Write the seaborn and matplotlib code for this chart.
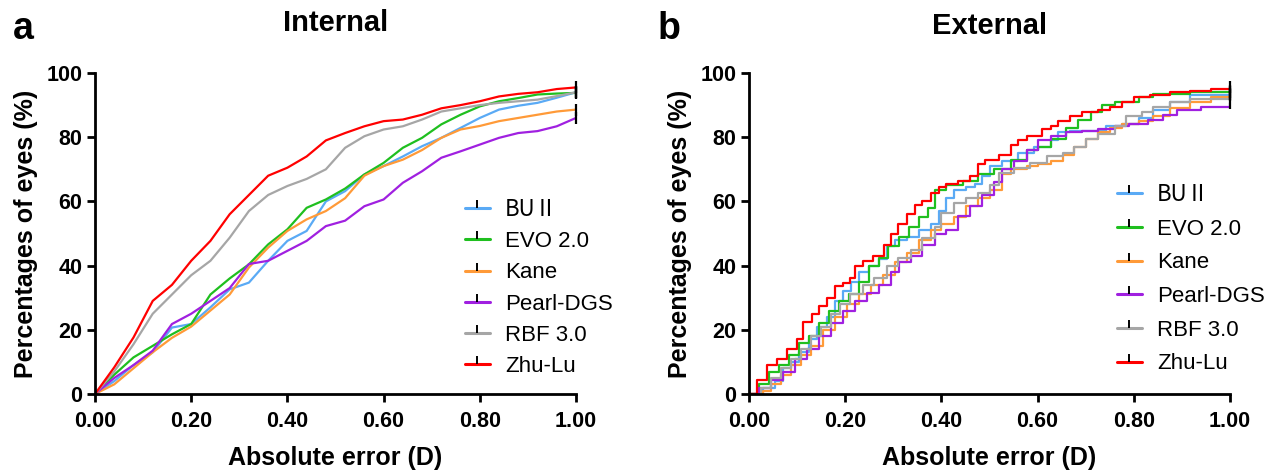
import numpy as np
import pandas as pd
import matplotlib
matplotlib.use("Agg")
import matplotlib.pyplot as plt
from matplotlib.lines import Line2D
import seaborn as sns

sns.set_style("ticks")
plt.rcParams['font.family'] = ['Liberation Sans', 'Noto Sans CJK SC', 'DejaVu Sans']
plt.rcParams['text.color'] = 'black'
plt.rcParams['axes.labelcolor'] = 'black'
plt.rcParams['xtick.color'] = 'black'
plt.rcParams['ytick.color'] = 'black'

models = ["BUⅡ", "EVO 2.0", "Kane", "Pearl-DGS", "RBF 3.0", "Zhu-Lu"]
colors = ["#5aaaf5", "#1fbf1f", "#ff9a38", "#a020e0", "#a6a6a6", "#ff0000"]

# ---------- Internal (panel a) ----------
int_x = [0.0, 0.04, 0.08, 0.12, 0.16, 0.20, 0.24, 0.28, 0.32, 0.36, 0.40, 0.44, 0.48,
         0.52, 0.56, 0.60, 0.64, 0.68, 0.72, 0.76, 0.80, 0.84, 0.88, 0.92, 0.96, 1.00]
int_bu = [0, 4, 9, 13, 20.7, 21.8, 27, 32.6, 34.7, 41.5, 47.7, 50.8, 60, 63.2, 68.4, 71,
          74, 77.2, 79.8, 82.9, 86, 88.6, 89.8, 90.7, 92.3, 94]
int_evo = [0, 6, 11.4, 15, 18.6, 21.8, 31, 36, 40.4, 46.6, 51.3, 58, 60.6, 64, 68.4, 72,
           76.7, 79.8, 84, 87, 89.6, 91.2, 92.2, 93.3, 93.6, 93.8]
int_kane = [0, 3, 8, 13, 17.5, 21, 26, 31, 39.4, 45.6, 50.8, 54.4, 57, 61, 68, 71,
            73, 76, 79.8, 82.4, 83.5, 85, 86, 87, 88, 88.6]
int_pearl = [0, 5, 9, 13.5, 21.8, 25, 29, 33, 40.5, 41.5, 44.6, 47.7, 52.3, 54, 58.5, 60.6,
             65.8, 69.4, 73.6, 75.6, 77.7, 79.8, 81.3, 81.9, 83.4, 86]
int_rbf = [0, 7, 15.5, 25, 31, 37, 41.5, 48.7, 57, 62, 64.8, 67, 70, 76.7, 80.3, 82.4,
           83.4, 85.5, 88, 89, 90, 90.7, 91.2, 91.7, 92.8, 94]
int_zhu = [0, 8.3, 17.6, 29, 34, 41.5, 47.7, 56, 62, 68, 70.5, 74, 79, 81.3, 83.4, 85,
           85.5, 87, 89, 90, 91.2, 92.7, 93.5, 94, 95, 95.5]

# ---------- External (panel b), step curves ----------
ext_bu_x = [0, 0.03, 0.054, 0.071, 0.087, 0.104, 0.124, 0.141, 0.162, 0.178, 0.195, 0.212,
            0.228, 0.249, 0.27, 0.286, 0.303, 0.328, 0.353, 0.378, 0.394, 0.41, 0.427, 0.452,
            0.469, 0.485, 0.502, 0.527, 0.56, 0.593, 0.627, 0.643, 0.668, 0.71, 0.743, 0.776,
            0.81, 0.84, 0.876, 0.917, 1.0]
ext_bu_y = [0, 2, 4, 8, 10, 13, 17, 21, 24, 29, 32, 35, 38, 40, 42, 46, 48, 49, 51, 53, 57,
            61, 63.5, 64.5, 65.5, 68, 71, 72.5, 75, 77, 79, 81.5, 82, 82, 83.5, 84, 86, 88.5,
            91, 93, 94]
ext_evo_x = [0, 0.02, 0.041, 0.062, 0.083, 0.104, 0.124, 0.145, 0.166, 0.187, 0.207, 0.228,
             0.249, 0.27, 0.29, 0.311, 0.332, 0.353, 0.373, 0.386, 0.41, 0.444, 0.477, 0.51,
             0.544, 0.577, 0.6, 0.627, 0.66, 0.685, 0.71, 0.734, 0.76, 0.81, 0.84, 0.917, 1.0]
ext_evo_y = [0, 3, 7, 9, 12, 16, 18, 22, 26, 29, 31, 35, 40, 42.5, 46, 49, 52, 55, 58, 63.5,
             65, 66.5, 68.5, 70, 73, 76, 77, 79.5, 83, 85.5, 88, 90, 91, 92.5, 93.5, 94, 94.5]
ext_kane_x = [0, 0.029, 0.046, 0.066, 0.087, 0.108, 0.129, 0.153, 0.178, 0.203, 0.228, 0.253,
              0.278, 0.303, 0.328, 0.353, 0.378, 0.4, 0.427, 0.452, 0.477, 0.502, 0.527,
              0.544, 0.577, 0.6, 0.627, 0.652, 0.676, 0.7, 0.726, 0.75, 0.776, 0.81, 0.84,
              0.876, 0.917, 0.96, 1.0]
ext_kane_y = [0, 1, 3, 6, 9, 12, 15, 20, 24, 28, 31, 34, 37, 41, 44, 48, 51, 53, 55, 58.5, 61,
              63.5, 68.5, 70, 71, 71.5, 72.5, 74.5, 77, 79.5, 81.5, 83, 84, 85, 86.5, 89, 91,
              92.5, 93.5]
ext_pearl_x = [0, 0.021, 0.046, 0.071, 0.095, 0.12, 0.145, 0.17, 0.195, 0.22, 0.245, 0.27,
               0.295, 0.311, 0.336, 0.36, 0.386, 0.41, 0.435, 0.46, 0.485, 0.51, 0.527, 0.55,
               0.577, 0.6, 0.627, 0.66, 0.693, 0.726, 0.76, 0.79, 0.83, 0.86, 0.89, 0.94, 1.0]
ext_pearl_y = [0, 2, 4.5, 7, 11, 14, 18, 22, 26, 29, 31.5, 34, 38, 41, 43, 46.5, 50, 51, 55.5,
               58.5, 62, 66, 70, 72.5, 76, 79, 80.5, 81.5, 82, 82.5, 83.5, 84, 85.5, 87, 88.5,
               89.5, 90.5]
ext_rbf_x = [0, 0.025, 0.046, 0.066, 0.087, 0.108, 0.129, 0.149, 0.17, 0.19, 0.21, 0.236,
             0.26, 0.286, 0.31, 0.336, 0.36, 0.386, 0.4, 0.427, 0.452, 0.477, 0.502, 0.52,
             0.55, 0.585, 0.62, 0.652, 0.676, 0.7, 0.726, 0.76, 0.784, 0.817, 0.84, 0.876,
             0.917, 1.0]
ext_rbf_y = [0, 2, 5, 8, 11, 14, 18, 21, 25, 28, 31, 34, 36, 40, 42.5, 45, 48.5, 52, 56.5,
             59.5, 61, 62.5, 65, 69, 70.5, 72, 74, 75, 77, 79.5, 81, 83.5, 86.5, 88, 89.5, 91,
             92, 93]
ext_zhu_x = [0, 0.017, 0.037, 0.058, 0.08, 0.1, 0.112, 0.13, 0.145, 0.162, 0.178, 0.195,
             0.21, 0.22, 0.237, 0.257, 0.28, 0.295, 0.31, 0.328, 0.345, 0.36, 0.378, 0.394,
             0.41, 0.435, 0.46, 0.477, 0.49, 0.52, 0.544, 0.56, 0.577, 0.61, 0.627, 0.643,
             0.668, 0.693, 0.726, 0.75, 0.776, 0.8, 0.834, 0.876, 0.917, 0.96, 1.0]
ext_zhu_y = [0, 4.5, 9, 11, 14, 17, 22.5, 25, 27.5, 30, 33.5, 34.5, 36, 40, 41.5, 43, 46.5,
             50, 53, 56, 59, 60, 62.5, 64.5, 65.5, 66.5, 68, 71.5, 73, 74.5, 77.5, 79, 80.5,
             82.5, 83.5, 85, 86.5, 88, 88.5, 89.5, 91, 92.5, 93, 94, 94.5, 95, 95.5]

int_series = [int_bu, int_evo, int_kane, int_pearl, int_rbf, int_zhu]
ext_series = [(ext_bu_x, ext_bu_y), (ext_evo_x, ext_evo_y), (ext_kane_x, ext_kane_y),
              (ext_pearl_x, ext_pearl_y), (ext_rbf_x, ext_rbf_y), (ext_zhu_x, ext_zhu_y)]

df_int = pd.concat([pd.DataFrame({"x": int_x, "y": ys, "model": m})
                    for m, ys in zip(models, int_series)], ignore_index=True)
df_ext = pd.concat([pd.DataFrame({"x": xs, "y": ys, "model": m})
                    for m, (xs, ys) in zip(models, ext_series)], ignore_index=True)

fig = plt.figure(figsize=(12.79, 4.70), dpi=100)
axA = fig.add_axes([95 / 1279, 76 / 470, 481 / 1279, 321 / 470])
axB = fig.add_axes([749 / 1279, 76 / 470, 481 / 1279, 321 / 470])
pal = dict(zip(models, colors))

sns.lineplot(data=df_int, x="x", y="y", hue="model", palette=pal, estimator=None,
             sort=False, linewidth=1.6, legend=False, ax=axA)
sns.lineplot(data=df_ext, x="x", y="y", hue="model", palette=pal, estimator=None,
             sort=False, linewidth=1.6, legend=False, ax=axB, drawstyle="steps-post")

for ax, df in ((axA, df_int), (axB, df_ext)):
    ends = df.groupby("model", sort=False).tail(1)
    ax.plot(ends["x"], ends["y"], linestyle="none", marker="|", color="black",
            markersize=9, markeredgewidth=1.6, clip_on=False, zorder=5)
    ax.set_xlim(0, 1)
    ax.set_ylim(0, 100)
    ax.set_xticks([0, 0.2, 0.4, 0.6, 0.8, 1.0])
    ax.set_xticklabels(["0.00", "0.20", "0.40", "0.60", "0.80", "1.00"])
    ax.set_yticks([0, 20, 40, 60, 80, 100])
    ax.tick_params(axis="both", width=2, length=6, labelsize=15.5, color="black",
                   labelcolor="black", pad=3)
    ax.tick_params(axis="x", pad=6)
    for lab in ax.get_xticklabels() + ax.get_yticklabels():
        lab.set_fontweight("bold")
    for s in ("left", "bottom"):
        ax.spines[s].set_linewidth(2)
        ax.spines[s].set_color("black")
    for s in ("top", "right"):
        ax.spines[s].set_visible(False)
    ax.set_xlabel("Absolute error (D)", fontsize=18, fontweight="bold", labelpad=10)
    ax.set_ylabel("Percentages of eyes (%)", fontsize=18, fontweight="bold", labelpad=6)

    handles = [Line2D([0.5], [0.5], color=c, lw=2.2, marker=2, markersize=6,
                      markeredgecolor="black", markeredgewidth=1.4)
               for c in colors]
    if ax is axA:
        anchor, lsp = (0.769, 0.611), 0.46
    else:
        anchor, lsp = (0.765, 0.657), 0.57
    leg = ax.legend(handles, models, frameon=False, fontsize=16,
                    handlelength=1.125, handletextpad=0.68, labelspacing=lsp,
                    loc="upper left", borderaxespad=0, borderpad=0,
                    bbox_to_anchor=anchor)
    leg.get_texts()[0].set_fontfamily(['Noto Sans CJK SC', 'DejaVu Sans'])

axA.set_title("Internal", fontsize=21, fontweight="bold", pad=30)
axB.set_title("External", fontsize=21, fontweight="bold", pad=28)
fig.text(23 / 1279, 1 - 29 / 470, "a", fontsize=27, fontweight="bold", va="center", ha="center")
fig.text(669 / 1279, 1 - 29 / 470, "b", fontsize=27, fontweight="bold", va="center", ha="center")

fig.savefig("out.png", dpi=100)
